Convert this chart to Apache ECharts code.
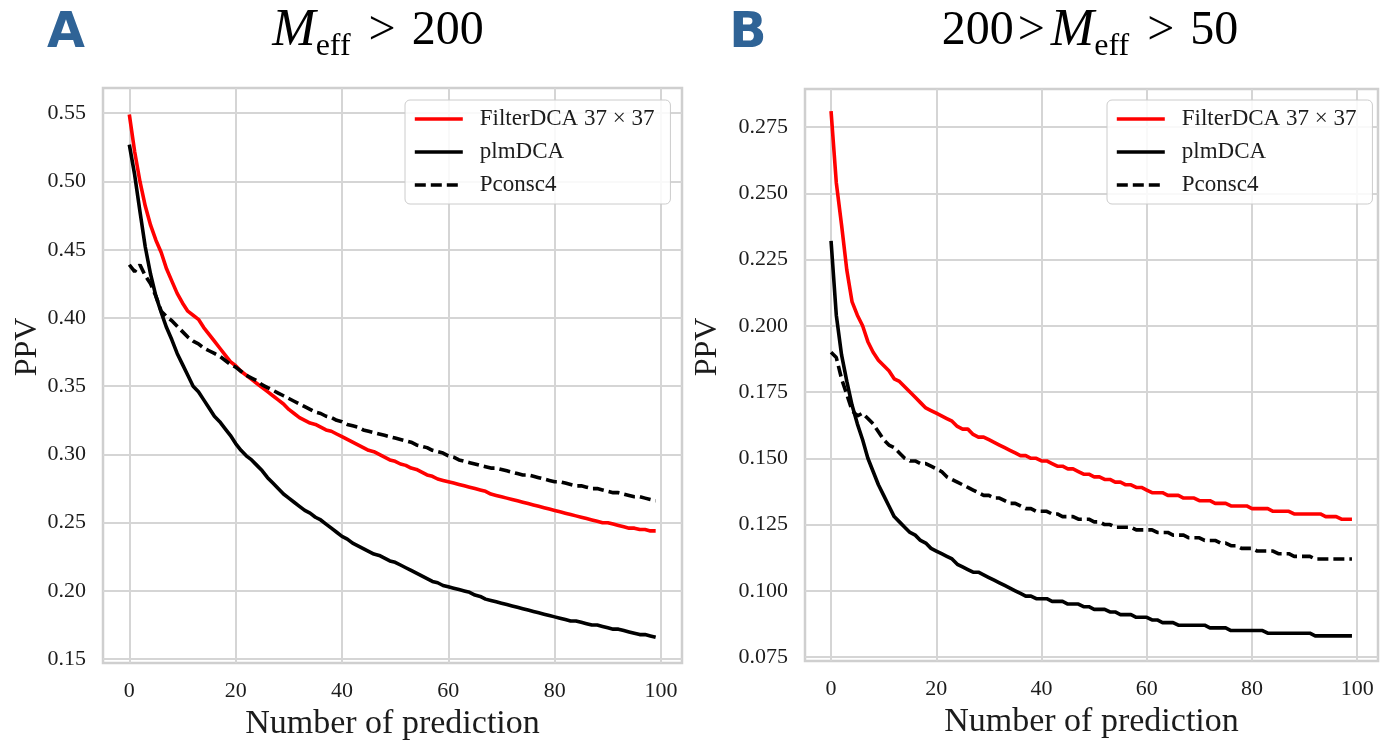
<!DOCTYPE html>
<html>
<head>
<meta charset="utf-8">
<script src="https://cdn.jsdelivr.net/npm/echarts@6/dist/echarts.min.js"></script>
<style>
  html, body { margin: 0; padding: 0; background: #ffffff; }
  #chart { width: 1388px; height: 742px; }
</style>
</head>
<body>
<div id="chart"></div>
<script>
// Rank of the contact prediction (top-k), 0..99
const predictionRank = Array.from({ length: 100 }, (_, i) => i);

const xTicks = [0, 20, 40, 60, 80, 100];
const yTicksA = [0.15, 0.20, 0.25, 0.30, 0.35, 0.40, 0.45, 0.50, 0.55];
const yTicksB = [0.075, 0.100, 0.125, 0.150, 0.175, 0.200, 0.225, 0.250, 0.275];

const seriesNames = ['FilterDCA 37 × 37', 'plmDCA', 'Pconsc4'];

// Panel A: M_eff > 200
const filterDcaA = [
  0.549, 0.522, 0.500, 0.482, 0.468, 0.457, 0.448, 0.436, 0.427, 0.418,
  0.411, 0.405, 0.402, 0.399, 0.393, 0.388, 0.383, 0.378, 0.373, 0.368,
  0.365, 0.361, 0.358, 0.355, 0.352, 0.349, 0.346, 0.343, 0.340, 0.337,
  0.333, 0.330, 0.327, 0.325, 0.323, 0.322, 0.320, 0.318, 0.317, 0.315,
  0.313, 0.311, 0.309, 0.307, 0.305, 0.303, 0.302, 0.300, 0.298, 0.296,
  0.295, 0.293, 0.292, 0.290, 0.289, 0.287, 0.285, 0.284, 0.282, 0.281,
  0.280, 0.279, 0.278, 0.277, 0.276, 0.275, 0.274, 0.273, 0.271, 0.270,
  0.269, 0.268, 0.267, 0.266, 0.265, 0.264, 0.263, 0.262, 0.261, 0.260,
  0.259, 0.258, 0.257, 0.256, 0.255, 0.254, 0.253, 0.252, 0.251, 0.250,
  0.250, 0.249, 0.248, 0.247, 0.246, 0.246, 0.245, 0.245, 0.244, 0.244
];
const plmDcaA = [
  0.527, 0.505, 0.478, 0.452, 0.432, 0.416, 0.404, 0.393, 0.384, 0.374,
  0.366, 0.358, 0.350, 0.346, 0.340, 0.334, 0.328, 0.324, 0.319, 0.314,
  0.308, 0.303, 0.299, 0.296, 0.292, 0.288, 0.283, 0.279, 0.275, 0.271,
  0.268, 0.265, 0.262, 0.259, 0.257, 0.254, 0.252, 0.249, 0.246, 0.243,
  0.240, 0.238, 0.235, 0.233, 0.231, 0.229, 0.227, 0.226, 0.224, 0.222,
  0.221, 0.219, 0.217, 0.215, 0.213, 0.211, 0.209, 0.207, 0.206, 0.204,
  0.203, 0.202, 0.201, 0.200, 0.199, 0.197, 0.196, 0.194, 0.193, 0.192,
  0.191, 0.190, 0.189, 0.188, 0.187, 0.186, 0.185, 0.184, 0.183, 0.182,
  0.181, 0.180, 0.179, 0.178, 0.178, 0.177, 0.176, 0.175, 0.175, 0.174,
  0.173, 0.172, 0.172, 0.171, 0.170, 0.169, 0.168, 0.168, 0.167, 0.166
];
const pconsc4A = [
  0.439, 0.434, 0.439, 0.431, 0.425, 0.416, 0.405, 0.401, 0.398, 0.394,
  0.390, 0.386, 0.383, 0.381, 0.378, 0.376, 0.374, 0.372, 0.369, 0.366,
  0.364, 0.361, 0.358, 0.356, 0.354, 0.351, 0.349, 0.347, 0.345, 0.343,
  0.341, 0.339, 0.337, 0.335, 0.333, 0.331, 0.330, 0.328, 0.327, 0.325,
  0.324, 0.322, 0.321, 0.320, 0.318, 0.317, 0.316, 0.315, 0.314, 0.313,
  0.312, 0.311, 0.310, 0.309, 0.307, 0.306, 0.305, 0.303, 0.302, 0.301,
  0.299, 0.298, 0.296, 0.295, 0.294, 0.293, 0.292, 0.291, 0.290, 0.290,
  0.289, 0.288, 0.287, 0.286, 0.285, 0.285, 0.284, 0.283, 0.282, 0.281,
  0.280, 0.280, 0.279, 0.278, 0.277, 0.277, 0.276, 0.275, 0.275, 0.274,
  0.273, 0.272, 0.272, 0.271, 0.270, 0.269, 0.269, 0.268, 0.267, 0.266
];

// Panel B: 200 > M_eff > 50
const filterDcaB = [
  0.281, 0.254, 0.238, 0.221, 0.209, 0.204, 0.200, 0.194, 0.190, 0.187,
  0.185, 0.183, 0.180, 0.179, 0.177, 0.175, 0.173, 0.171, 0.169, 0.168,
  0.167, 0.166, 0.165, 0.164, 0.162, 0.161, 0.161, 0.159, 0.158, 0.158,
  0.157, 0.156, 0.155, 0.154, 0.153, 0.152, 0.151, 0.151, 0.150, 0.150,
  0.149, 0.149, 0.148, 0.147, 0.147, 0.146, 0.146, 0.145, 0.144, 0.144,
  0.143, 0.143, 0.142, 0.142, 0.141, 0.141, 0.140, 0.140, 0.139, 0.139,
  0.138, 0.137, 0.137, 0.137, 0.136, 0.136, 0.136, 0.135, 0.135, 0.135,
  0.134, 0.134, 0.134, 0.133, 0.133, 0.133, 0.132, 0.132, 0.132, 0.132,
  0.131, 0.131, 0.131, 0.131, 0.130, 0.130, 0.130, 0.130, 0.129, 0.129,
  0.129, 0.129, 0.129, 0.129, 0.128, 0.128, 0.128, 0.127, 0.127, 0.127
];
const plmDcaB = [
  0.232, 0.204, 0.189, 0.179, 0.170, 0.163, 0.157, 0.150, 0.145, 0.140,
  0.136, 0.132, 0.128, 0.126, 0.124, 0.122, 0.121, 0.119, 0.118, 0.116,
  0.115, 0.114, 0.113, 0.112, 0.110, 0.109, 0.108, 0.107, 0.107, 0.106,
  0.105, 0.104, 0.103, 0.102, 0.101, 0.100, 0.099, 0.098, 0.098, 0.097,
  0.097, 0.097, 0.096, 0.096, 0.096, 0.095, 0.095, 0.095, 0.094, 0.094,
  0.093, 0.093, 0.093, 0.092, 0.092, 0.091, 0.091, 0.091, 0.090, 0.090,
  0.090, 0.089, 0.089, 0.088, 0.088, 0.088, 0.087, 0.087, 0.087, 0.087,
  0.087, 0.087, 0.086, 0.086, 0.086, 0.086, 0.085, 0.085, 0.085, 0.085,
  0.085, 0.085, 0.085, 0.084, 0.084, 0.084, 0.084, 0.084, 0.084, 0.084,
  0.084, 0.084, 0.083, 0.083, 0.083, 0.083, 0.083, 0.083, 0.083, 0.083
];
const pconsc4B = [
  0.190, 0.188, 0.180, 0.174, 0.168, 0.166, 0.167, 0.165, 0.163, 0.160,
  0.157, 0.155, 0.154, 0.152, 0.150, 0.149, 0.149, 0.148, 0.148, 0.147,
  0.146, 0.145, 0.143, 0.142, 0.141, 0.140, 0.139, 0.138, 0.137, 0.136,
  0.136, 0.135, 0.135, 0.134, 0.133, 0.133, 0.132, 0.131, 0.131, 0.130,
  0.130, 0.130, 0.129, 0.129, 0.128, 0.128, 0.128, 0.127, 0.127, 0.127,
  0.126, 0.126, 0.125, 0.125, 0.124, 0.124, 0.124, 0.124, 0.123, 0.123,
  0.123, 0.123, 0.122, 0.122, 0.122, 0.121, 0.121, 0.121, 0.120, 0.120,
  0.120, 0.119, 0.119, 0.119, 0.118, 0.118, 0.117, 0.117, 0.116, 0.116,
  0.116, 0.115, 0.115, 0.115, 0.115, 0.114, 0.114, 0.114, 0.113, 0.113,
  0.113, 0.113, 0.112, 0.112, 0.112, 0.112, 0.112, 0.112, 0.112, 0.112
];

const SERIF = '"Liberation Serif", "DejaVu Serif", serif';
const TEXT_COLOR = '#1c1c1c';
const GRID_COLOR = '#d5d5d5';
const FRAME_COLOR = '#cfcfcf';

function pairs(values) {
  return values.map((v, i) => [predictionRank[i], v]);
}

function xAxisFor(gridIndex) {
  return {
    type: 'value', gridIndex: gridIndex,
    min: -4.95, max: 103.95,
    name: 'Number of prediction',
    nameLocation: 'middle', nameGap: 43,
    nameTextStyle: { fontFamily: SERIF, fontSize: 34, color: TEXT_COLOR },
    axisLine: { show: false },
    axisTick: { show: false, customValues: xTicks },
    axisLabel: {
      customValues: xTicks, margin: 17,
      fontFamily: SERIF, fontSize: 22, color: TEXT_COLOR,
      formatter: v => String(Math.round(v))
    },
    splitLine: { show: true, lineStyle: { color: GRID_COLOR, width: 2 } }
  };
}

function yAxisFor(gridIndex, min, max, ticks, decimals) {
  return {
    type: 'value', gridIndex: gridIndex,
    min: min, max: max,
    axisLine: { show: false },
    axisTick: { show: false, customValues: ticks },
    axisLabel: {
      customValues: ticks, margin: 17,
      fontFamily: SERIF, fontSize: 22, color: TEXT_COLOR,
      formatter: v => Number(v).toFixed(decimals)
    },
    splitLine: { show: true, lineStyle: { color: GRID_COLOR, width: 2 } }
  };
}

function lineSeries(name, values, idx, color, dashed) {
  return {
    type: 'line', name: name,
    xAxisIndex: idx, yAxisIndex: idx,
    data: pairs(values),
    symbol: 'none', smooth: false,
    lineStyle: { color: color, width: 3.6, type: dashed ? [11, 5] : 'solid', cap: 'butt' },
    itemStyle: { color: color },
    emphasis: { disabled: true }
  };
}

function legendAt(left) {
  return {
    orient: 'vertical', left: left, top: 100,
    data: seriesNames,
    selectedMode: false,
    // a very thin icon keeps only the line sample visible
    itemWidth: 48, itemHeight: 2, itemGap: 9,
    padding: [7, 16, 7, 8],
    backgroundColor: 'rgba(255,255,255,0.85)',
    borderColor: '#cccccc', borderWidth: 1, borderRadius: 5,
    lineStyle: { width: 3.6 },
    textStyle: { fontFamily: SERIF, fontSize: 23, lineHeight: 24, color: TEXT_COLOR, padding: [0, 0, 0, 12] }
  };
}

function panelTitle(x, richText) {
  return {
    type: 'text', x: x, y: 31,
    style: {
      text: richText,
      align: 'center', verticalAlign: 'middle',
      fill: '#000000',
      rich: {
        t: { fontFamily: SERIF, fontSize: 48, lineHeight: 64, fill: '#000000' },
        g: { fontFamily: SERIF, fontSize: 48, lineHeight: 64, fill: '#000000', padding: [0, 6, 0, 4] },
        gs: { fontFamily: SERIF, fontSize: 48, lineHeight: 64, fill: '#000000', padding: [0, 16, 0, 18] },
        m: { fontFamily: SERIF, fontStyle: 'italic', fontSize: 52, lineHeight: 64, fill: '#000000' },
        s: { fontFamily: SERIF, fontSize: 32, lineHeight: 28, verticalAlign: 'bottom', fill: '#000000' }
      }
    }
  };
}

function panelLetter(x, letter) {
  return {
    type: 'text', x: x, y: 34,
    style: {
      text: letter,
      font: 'bold 49px "DejaVu Sans", sans-serif',
      fill: '#2f6396',
      align: 'center', verticalAlign: 'middle'
    }
  };
}

function yName(x, y) {
  return {
    type: 'text', x: x, y: y, rotation: Math.PI / 2,
    style: {
      text: 'PPV',
      font: '32px ' + SERIF,
      fill: TEXT_COLOR,
      align: 'center', verticalAlign: 'middle'
    }
  };
}

const chart = echarts.init(document.getElementById('chart'), null, { renderer: 'canvas' });

chart.setOption({
  animation: false,
  backgroundColor: '#ffffff',
  grid: [
    { left: 103, top: 88, width: 579, height: 575, show: true, borderColor: FRAME_COLOR, borderWidth: 2.5, backgroundColor: '#ffffff', containLabel: false, outerBoundsMode: 'none' },
    { left: 805, top: 89, width: 573, height: 572, show: true, borderColor: FRAME_COLOR, borderWidth: 2.5, backgroundColor: '#ffffff', containLabel: false, outerBoundsMode: 'none' }
  ],
  xAxis: [xAxisFor(0), xAxisFor(1)],
  yAxis: [
    yAxisFor(0, 0.1472, 0.5685, yTicksA, 2),
    yAxisFor(1, 0.0735, 0.28935, yTicksB, 3)
  ],
  legend: [legendAt(405), legendAt(1107)],
  series: [
    lineSeries(seriesNames[0], filterDcaA, 0, '#ff0000', false),
    lineSeries(seriesNames[1], plmDcaA, 0, '#000000', false),
    lineSeries(seriesNames[2], pconsc4A, 0, '#000000', true),
    lineSeries(seriesNames[0], filterDcaB, 1, '#ff0000', false),
    lineSeries(seriesNames[1], plmDcaB, 1, '#000000', false),
    lineSeries(seriesNames[2], pconsc4B, 1, '#000000', true)
  ],
  graphic: [
    panelLetter(66, 'A'),
    panelLetter(748, 'B'),
    panelTitle(378, '{m|M}{s|eff}{gs|>}{t|200}'),
    panelTitle(1090, '{t|200}{g|>}{m|M}{s|eff}{gs|>}{t|50}'),
    yName(28, 347),
    yName(708, 347)
  ]
});
</script>
</body>
</html>
